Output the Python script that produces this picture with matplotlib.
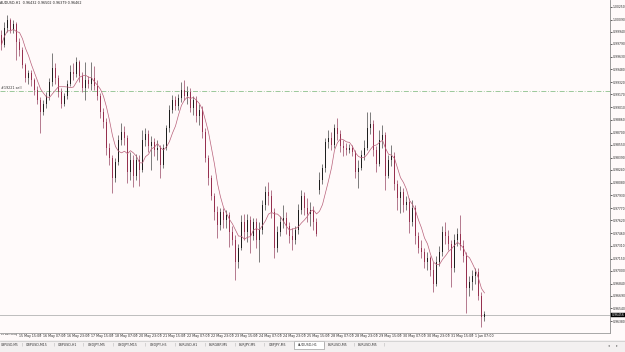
import matplotlib
matplotlib.use("Agg")
import matplotlib.pyplot as plt
import matplotlib.transforms as mtrans
from matplotlib.patches import Rectangle
import numpy as np
import pandas as pd

# ---------------- data (AUDUSD) ----------------
symbol = "AUDUSD,H1"
header_values = "0.96432 0.96502 0.96379 0.96462"

opens = [
    0.9990, 0.9978, 0.9999, 1.0008, 0.9996, 1.0003, 0.9981, 0.9971, 0.9953, 0.9937,
    0.9943, 0.9935, 0.9922, 0.9910, 0.9895, 0.9905, 0.9915, 0.9932, 0.9949, 0.9937,
    0.9920, 0.9905, 0.9915, 0.9930, 0.9944, 0.9942, 0.9957, 0.9940, 0.9925, 0.9935,
    0.9930, 0.9937, 0.9927, 0.9915, 0.9895, 0.9883, 0.9851, 0.9839, 0.9814, 0.9834,
    0.9861, 0.9871, 0.9863, 0.9821, 0.9836, 0.9817, 0.9836, 0.9824, 0.9861, 0.9868,
    0.9853, 0.9858, 0.9848, 0.9851, 0.9830, 0.9851, 0.9876, 0.9898, 0.9910, 0.9903,
    0.9912, 0.9922, 0.9915, 0.9920, 0.9900, 0.9910, 0.9890, 0.9898, 0.9871, 0.9839,
    0.9814, 0.9792, 0.9772, 0.9756, 0.9772, 0.9762, 0.9769, 0.9748, 0.9738, 0.9711,
    0.9728, 0.9760, 0.9748, 0.9762, 0.9743, 0.9760, 0.9738, 0.9750, 0.9781, 0.9797,
    0.9792, 0.9772, 0.9728, 0.9748, 0.9760, 0.9765, 0.9755, 0.9743, 0.9738, 0.9750,
    0.9775, 0.9792, 0.9777, 0.9770, 0.9775, 0.9760, 0.9799, 0.9812, 0.9826, 0.9858,
    0.9863, 0.9855, 0.9876, 0.9868, 0.9853, 0.9851, 0.9848, 0.9851, 0.9846, 0.9821,
    0.9826, 0.9842, 0.9851, 0.9876, 0.9880, 0.9848, 0.9831, 0.9861, 0.9867, 0.9817,
    0.9836, 0.9841, 0.9807, 0.9789, 0.9797, 0.9781, 0.9785, 0.9760, 0.9777, 0.9743,
    0.9728, 0.9723, 0.9711, 0.9716, 0.9701, 0.9684, 0.9711, 0.9723, 0.9748, 0.9743,
    0.9733, 0.9703, 0.9738, 0.9745, 0.9730, 0.9718, 0.9679, 0.9686, 0.9694, 0.9698,
    0.9669, 0.96432,
]
highs = [
    0.9996, 1.0006, 1.0015, 1.0011, 1.0008, 1.0006, 0.9986, 0.9975, 0.9956, 0.9947,
    0.9947, 0.9937, 0.9927, 0.9914, 0.9910, 0.9920, 0.9937, 0.9968, 0.9956, 0.9941,
    0.9925, 0.9919, 0.9935, 0.9953, 0.9956, 0.9963, 0.9959, 0.9944, 0.9957, 0.9940,
    0.9957, 0.9952, 0.9935, 0.9919, 0.9900, 0.9888, 0.9857, 0.9842, 0.9839, 0.9867,
    0.9882, 0.9878, 0.9867, 0.9846, 0.9842, 0.9844, 0.9842, 0.9873, 0.9876, 0.9873,
    0.9866, 0.9863, 0.9861, 0.9855, 0.9856, 0.9879, 0.9904, 0.9916, 0.9915, 0.9917,
    0.9932, 0.9935, 0.9927, 0.9925, 0.9915, 0.9915, 0.9905, 0.9903, 0.9876, 0.9842,
    0.9818, 0.9796, 0.9780, 0.9777, 0.9777, 0.9775, 0.9772, 0.9755, 0.9744, 0.9733,
    0.9769, 0.9770, 0.9770, 0.9767, 0.9765, 0.9765, 0.9760, 0.9787, 0.9804, 0.9809,
    0.9799, 0.9777, 0.9755, 0.9767, 0.9781, 0.9772, 0.9760, 0.9753, 0.9755, 0.9782,
    0.9799, 0.9797, 0.9789, 0.9785, 0.9780, 0.9765, 0.9821, 0.9831, 0.9863, 0.9873,
    0.9871, 0.9880, 0.9888, 0.9873, 0.9861, 0.9857, 0.9856, 0.9855, 0.9848, 0.9836,
    0.9848, 0.9861, 0.9895, 0.9895, 0.9885, 0.9853, 0.9873, 0.9879, 0.9871, 0.9842,
    0.9855, 0.9846, 0.9812, 0.9804, 0.9802, 0.9792, 0.9789, 0.9787, 0.9781, 0.9748,
    0.9738, 0.9728, 0.9723, 0.9718, 0.9711, 0.9718, 0.9730, 0.9755, 0.9760, 0.9750,
    0.9738, 0.9745, 0.9753, 0.9769, 0.9738, 0.9723, 0.9694, 0.9701, 0.9703, 0.9703,
    0.9674, 0.96502,
]
lows = [
    0.9971, 0.9975, 0.9994, 0.9992, 0.9992, 0.9959, 0.9964, 0.9949, 0.9932, 0.9930,
    0.9927, 0.9916, 0.9905, 0.9869, 0.9892, 0.9900, 0.9910, 0.9927, 0.9930, 0.9914,
    0.9900, 0.9903, 0.9911, 0.9927, 0.9935, 0.9938, 0.9932, 0.9920, 0.9910, 0.9925,
    0.9922, 0.9922, 0.9910, 0.9888, 0.9876, 0.9842, 0.9830, 0.9796, 0.9809, 0.9830,
    0.9855, 0.9855, 0.9808, 0.9812, 0.9803, 0.9812, 0.9804, 0.9821, 0.9853, 0.9846,
    0.9824, 0.9841, 0.9836, 0.9814, 0.9826, 0.9848, 0.9871, 0.9894, 0.9898, 0.9898,
    0.9908, 0.9910, 0.9905, 0.9895, 0.9892, 0.9883, 0.9879, 0.9863, 0.9834, 0.9805,
    0.9787, 0.9762, 0.9740, 0.9750, 0.9753, 0.9753, 0.9729, 0.9732, 0.9689, 0.9703,
    0.9726, 0.9738, 0.9735, 0.9722, 0.9738, 0.9728, 0.9711, 0.9745, 0.9775, 0.9781,
    0.9765, 0.9716, 0.9723, 0.9743, 0.9753, 0.9745, 0.9734, 0.9726, 0.9733, 0.9745,
    0.9770, 0.9769, 0.9760, 0.9755, 0.9750, 0.9743, 0.9794, 0.9807, 0.9821, 0.9851,
    0.9848, 0.9851, 0.9861, 0.9846, 0.9841, 0.9842, 0.9845, 0.9841, 0.9814, 0.9802,
    0.9824, 0.9836, 0.9848, 0.9868, 0.9841, 0.9821, 0.9829, 0.9851, 0.9799, 0.9814,
    0.9829, 0.9799, 0.9775, 0.9771, 0.9772, 0.9775, 0.9746, 0.9755, 0.9733, 0.9722,
    0.9716, 0.9703, 0.9701, 0.9694, 0.9674, 0.9681, 0.9706, 0.9718, 0.9733, 0.9726,
    0.9680, 0.9698, 0.9730, 0.9726, 0.9711, 0.9648, 0.9669, 0.9676, 0.9684, 0.9664,
    0.9631, 0.96379,
]
closes = [
    0.9978, 0.9999, 1.0008, 0.9996, 1.0003, 0.9981, 0.9971, 0.9953, 0.9937, 0.9943,
    0.9935, 0.9922, 0.9910, 0.9895, 0.9905, 0.9915, 0.9932, 0.9949, 0.9937, 0.9920,
    0.9905, 0.9915, 0.9930, 0.9944, 0.9942, 0.9957, 0.9940, 0.9925, 0.9935, 0.9930,
    0.9937, 0.9927, 0.9915, 0.9895, 0.9883, 0.9851, 0.9839, 0.9814, 0.9834, 0.9861,
    0.9871, 0.9863, 0.9821, 0.9836, 0.9817, 0.9836, 0.9824, 0.9861, 0.9868, 0.9853,
    0.9858, 0.9848, 0.9851, 0.9830, 0.9851, 0.9876, 0.9898, 0.9910, 0.9903, 0.9912,
    0.9922, 0.9915, 0.9920, 0.9900, 0.9910, 0.9890, 0.9898, 0.9871, 0.9839, 0.9814,
    0.9792, 0.9772, 0.9756, 0.9772, 0.9762, 0.9769, 0.9748, 0.9738, 0.9711, 0.9728,
    0.9760, 0.9748, 0.9762, 0.9743, 0.9760, 0.9738, 0.9750, 0.9781, 0.9797, 0.9792,
    0.9772, 0.9728, 0.9748, 0.9760, 0.9765, 0.9755, 0.9743, 0.9738, 0.9750, 0.9775,
    0.9792, 0.9777, 0.9770, 0.9775, 0.9760, 0.9745, 0.9812, 0.9826, 0.9858, 0.9863,
    0.9855, 0.9876, 0.9868, 0.9853, 0.9851, 0.9848, 0.9851, 0.9846, 0.9821, 0.9826,
    0.9842, 0.9851, 0.9876, 0.9880, 0.9848, 0.9831, 0.9861, 0.9867, 0.9817, 0.9836,
    0.9841, 0.9807, 0.9789, 0.9797, 0.9781, 0.9785, 0.9760, 0.9777, 0.9743, 0.9728,
    0.9723, 0.9711, 0.9716, 0.9701, 0.9684, 0.9711, 0.9723, 0.9748, 0.9743, 0.9733,
    0.9703, 0.9738, 0.9745, 0.9730, 0.9718, 0.9679, 0.9686, 0.9694, 0.9698, 0.9669,
    0.9643, 0.96462,
]
ma_period = 6

price_ticks = [1.00250, 1.00090, 0.99940, 0.99790, 0.99630, 0.99480, 0.99320,
               0.99170, 0.99010, 0.98860, 0.98700, 0.98550, 0.98390, 0.98240,
               0.98080, 0.97930, 0.97770, 0.97620, 0.97460, 0.97310, 0.97150,
               0.97000, 0.96840, 0.96690, 0.96540, 0.96380]
current_price = 0.96456
order_price = 0.99211
order_label = "#19221 sell"

time_labels = ["15 May 2012", "15 May 15:00", "16 May 07:00", "16 May 23:00",
               "17 May 15:00", "18 May 07:00", "20 May 23:00", "21 May 15:00",
               "22 May 07:00", "22 May 23:00", "23 May 15:00", "24 May 07:00",
               "24 May 23:00", "25 May 15:00", "28 May 07:00", "28 May 23:00",
               "29 May 15:00", "30 May 07:00", "30 May 23:00", "31 May 15:00",
               "1 Jun 07:00"]
tabs = ["GBPUSD,M5", "GBPUSD,M15", "GBPUSD,H1", "USDJPY,M5", "USDJPY,M15",
        "USDJPY,H5", "EURUSD,H1", "EURGBP,M5", "EURJPY,M5", "GBPJPY,M5",
        "AUDUSD,H1", "EURUSD,M5", "EURUSD,M5"]
active_tab = "AUDUSD,H1"

# ---------------- figure ----------------
W, H = 625, 352
BG = "#FFFAFA"
fig = plt.figure(figsize=(W / 100, H / 100), dpi=100, facecolor=BG)

plot_right = 610
plot_bottom = 333
ax = fig.add_axes([0, 1 - plot_bottom / H, plot_right / W, plot_bottom / H])
ax.set_facecolor(BG)

n = len(closes)
o = np.array(opens); h = np.array(highs); l = np.array(lows); c = np.array(closes)
x = np.arange(n)
up = c >= o
dn = ~up

ax.vlines(x[up], l[up], h[up], color="#666666", lw=0.6, zorder=2)
ax.vlines(x[dn], l[dn], h[dn], color="#a8647c", lw=0.6, zorder=2)
ax.bar(x[up], np.maximum((c - o)[up], 0.00004), bottom=o[up], width=0.6,
       color="#1e1e1e", lw=0, zorder=3)
ax.bar(x[dn], (c - o)[dn], bottom=o[dn], width=0.6,
       color="#96304f", lw=0, zorder=3)

ma = pd.Series(closes).rolling(ma_period, min_periods=1).mean()
ax.plot(x, ma, color="#b8607a", lw=0.5, zorder=4)

ax.axhline(current_price, color="#bdbdbd", lw=0.7, zorder=1)
ax.axhline(order_price, color="#8cc08c", lw=0.6, ls=(0, (6, 2, 1, 2)), zorder=1)

# scale: 3 px per bar, price per px
px_per_bar = 3.0
ax.set_xlim(-0.5, plot_right / px_per_bar - 0.5)
ytop = 1.0033
ybot = ytop - 0.000123 * plot_bottom
ax.set_ylim(ybot, ytop)

for s in ["top", "left"]:
    ax.spines[s].set_visible(False)
ax.spines["right"].set_color("#8a8a8a")
ax.spines["right"].set_linewidth(0.6)
ax.spines["bottom"].set_color("#9a9a9a")
ax.spines["bottom"].set_linewidth(0.6)

ax.yaxis.tick_right()
ax.set_yticks(price_ticks)
ax.set_yticklabels([f"{v:.5f}" for v in price_ticks])
ax.tick_params(axis="y", direction="out", length=1.2, width=0.5, pad=0.6,
               labelsize=2.15, colors="#222222")
ax.set_xticks([])

# time labels
trans_x = mtrans.blended_transform_factory(ax.transData, ax.transAxes)
for k, lab in enumerate(time_labels):
    pos = -3 + 8 * k
    if k == 0:
        ax.text(0.002, -0.004, lab, transform=ax.transAxes, ha="left",
                va="top", fontsize=1.7, color="#222222", clip_on=False)
        continue
    ax.plot([pos, pos], [0, -0.006], transform=trans_x, color="#777777",
            lw=0.4, clip_on=False)
    ax.text(pos + 0.75, -0.004, lab, transform=trans_x, ha="left", va="top",
            fontsize=2.3, color="#222222", clip_on=False)

# current price box
trans_y = mtrans.blended_transform_factory(ax.transAxes, ax.transData)
ax.text(1.0025, current_price, f"{current_price:.5f}", transform=trans_y,
        ha="left", va="center", fontsize=2.15, color="white", zorder=10,
        bbox=dict(boxstyle="square,pad=0.12", fc="black", ec="black", lw=0.3))

# order line label
ax.text(0.001, order_price + 0.00018, order_label, transform=trans_y,
        ha="left", va="bottom", fontsize=2.4, color="#333333")

# header
fig.text(0.5 / W, 1 - 3.5 / H, f"{symbol}  {header_values}", ha="left",
         va="center", fontsize=2.4, color="#222222")

# tab bar
tab_ax = fig.add_axes([0, 0, 1, 12 / H])
tab_ax.set_xlim(0, W)
tab_ax.set_ylim(12, 0)
tab_ax.axis("off")
tab_ax.add_patch(Rectangle((0, 0), W, 12, fc="#F3F0F0", ec="none"))
tab_ax.plot([0, W], [0.5, 0.5], color="#c8c8c8", lw=0.5)
sep = 21.7
for k, t in enumerate(tabs):
    w = 10 + 2.2 * len(t)
    left = sep - w if k == 0 else sep
    right = left + w
    if t == active_tab:
        tab_ax.add_patch(Rectangle((left, 0.8), w, 8, fc="white",
                                   ec="#8a8a8a", lw=0.4))
    tx = 0.8 if k == 0 else left + 4
    tab_ax.text(tx, 4.6, t, ha="left", va="center",
                fontsize=2.2 if k == 0 else 2.35, color="#333333")
    tab_ax.text(right, 4.6, "|", ha="center", va="center", fontsize=2.6,
                color="#9a9a9a")
    sep = right
tab_ax.text(609, 4.6, "\u25C2", ha="center", va="center", fontsize=2.6,
            color="#777777")
tab_ax.text(617, 4.6, "\u25B8", ha="center", va="center", fontsize=2.6,
            color="#777777")

fig.savefig("out.png", dpi=100, facecolor=BG)
